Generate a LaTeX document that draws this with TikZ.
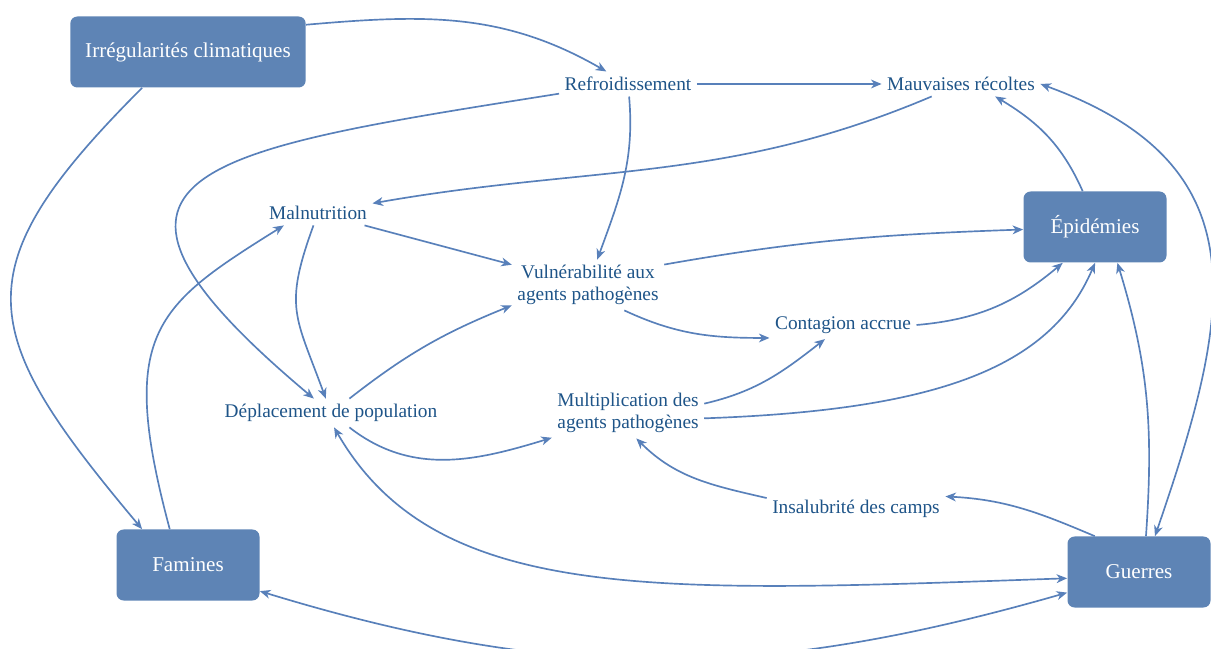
\documentclass[tikz,border=0pt]{standalone}
\usepackage{fontspec}
\setmainfont{Liberation Serif}
\usetikzlibrary{arrows.meta}

\definecolor{boxblue}{RGB}{94,132,181}
\definecolor{lineblue}{RGB}{88,128,186}
\definecolor{labelblue}{RGB}{30,84,136}

\begin{document}
\begin{tikzpicture}[
boxnode/.style={rectangle, rounded corners=4pt, fill=boxblue, text=white, font=\fontsize{12}{14}\selectfont, minimum width=2.86cm, minimum height=1.42cm, inner xsep=8.5pt},
labelnode/.style={text=labelblue, font=\fontsize{11}{12.5}\selectfont, align=center, inner sep=3pt},
conn/.style={draw=lineblue, line width=0.95pt},
>={Stealth[length=6pt, width=5pt, inset=1.8pt]},
]
\useasboundingbox (0,0) rectangle (24.22,12.96);

%Nodes
\node[boxnode]   (climat)   at (3.76,11.92)  {Irrégularités climatiques};
\node[labelnode] (refroid)  at (12.56,11.28) {Refroidissement};
\node[labelnode] (recoltes) at (19.22,11.28) {Mauvaises récoltes};
\node[labelnode] (malnut)   at (6.36,8.70)   {Malnutrition};
\node[boxnode]   (epidem)   at (21.90,8.42)  {Épidémies};
\node[labelnode] (vulner)   at (11.76,7.26)  {Vulnérabilité aux\\agents pathogènes};
\node[labelnode] (contag)   at (16.86,6.46)  {Contagion accrue};
\node[labelnode] (deplac)   at (6.62,4.70)   {Déplacement de population};
\node[labelnode] (multip)   at (12.56,4.70)  {Multiplication des\\agents pathogènes};
\node[labelnode] (insalub)  at (17.12,2.78)  {Insalubrité des camps};
\node[boxnode]   (famines)  at (3.76,1.66)   {Famines};
\node[boxnode]   (guerres)  at (22.78,1.52)  {Guerres};

%Lines
\draw[conn,->] (climat.13) to[out=5, in=150] (refroid);
\draw[conn,->] (climat.218) to[out=225, in=130, looseness=1.5] (famines.142);
\draw[conn,->] (refroid) -- (recoltes);
\draw[conn,->] (refroid.188) to[out=189, in=140, out looseness=2.4, in looseness=2.3] (deplac);
\draw[conn,->] (refroid) to[out=-85, in=70] (vulner);
\draw[conn,->] (recoltes) to[out=203, in=10] (malnut);
\draw[conn,->] (famines.117) to[out=105, in=212, out looseness=1.6, in looseness=1.2] (malnut.200);
\draw[conn,->] (malnut) to[out=250, in=110, looseness=1.3] (deplac);
\draw[conn,->] (malnut) -- (vulner);
\draw[conn,->] (deplac) to[out=38, in=202] (vulner.195);
\draw[conn,->] (deplac) to[out=-38, in=197] (multip.198);
\draw[conn,->] (vulner.15) to[out=10, in=182] (epidem);
\draw[conn,->] (vulner.325) to[out=-25, in=180] (contag.190);
\draw[conn,->] (multip.7) to[out=13, in=218] (contag);
\draw[conn,->] (multip.-4) to[out=2, in=247, out looseness=1.4, in looseness=0.7] (epidem.south);
\draw[conn,->] (contag.east) to[out=5, in=220] (epidem.228);
\draw[conn,->] (epidem.109) to[out=114, in=-31] (recoltes.-20);
\draw[conn,<->] (recoltes.east) to[out=-20, in=71, looseness=1.3] (guerres.66);
\draw[conn,->] (guerres.79) to[out=86, in=-73] (epidem.-58);
\draw[conn,->] (guerres.141) to[out=157, in=-3] (insalub.8);
\draw[conn,->] (insalub.173) to[out=167, in=-45] (multip.-72);
\draw[conn,<->] (deplac.-78) to[out=-60, in=182, out looseness=0.7, in looseness=1.4] (guerres.185);
\draw[conn,<->] (famines.-20) to[out=-17, in=196] (guerres.196);
\end{tikzpicture}
\end{document}
